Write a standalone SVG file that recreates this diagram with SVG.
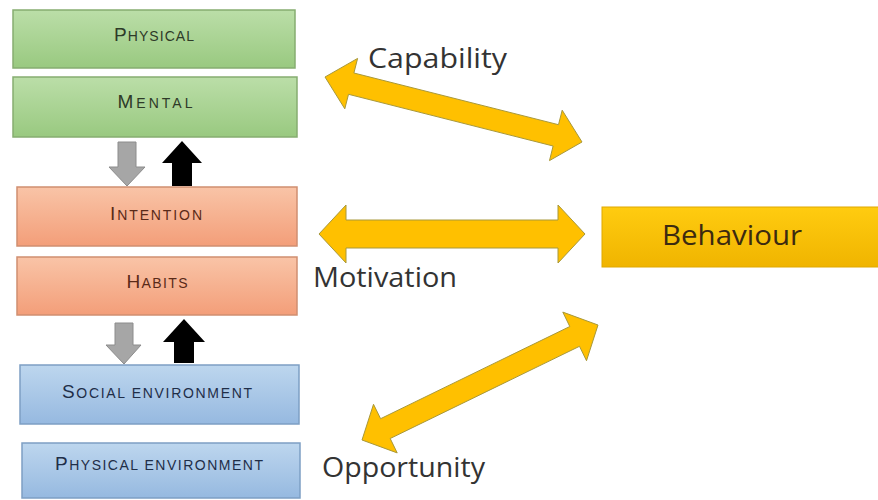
<svg xmlns="http://www.w3.org/2000/svg" width="878" height="500" viewBox="0 0 878 500">
<defs>
<linearGradient id="gGreen" x1="0" y1="0" x2="0" y2="1"><stop offset="0" stop-color="#bbdea8"/><stop offset="1" stop-color="#99c980"/></linearGradient>
<linearGradient id="gOrange" x1="0" y1="0" x2="0" y2="1"><stop offset="0" stop-color="#f9c4a7"/><stop offset="1" stop-color="#f39e79"/></linearGradient>
<linearGradient id="gBlue" x1="0" y1="0" x2="0" y2="1"><stop offset="0" stop-color="#bdd6ee"/><stop offset="1" stop-color="#96b9e0"/></linearGradient>
<linearGradient id="gYellow" x1="0" y1="0" x2="0" y2="1"><stop offset="0" stop-color="#ffcc10"/><stop offset="1" stop-color="#f0b400"/></linearGradient>
</defs>
<style>
.green{fill:url(#gGreen);stroke:#86ad70;stroke-width:1.5}
.orange{fill:url(#gOrange);stroke:#d08e70;stroke-width:1.5}
.blue{fill:url(#gBlue);stroke:#7d9fc4;stroke-width:1.5}
.beh{fill:url(#gYellow);stroke:#e0a800;stroke-width:1}
.sc{font-family:"Liberation Sans",Arial,sans-serif;text-anchor:middle}
.big{font-size:19px}
.small{font-size:14px}
.tg{fill:#2e3a28}
.to{fill:#5a2a18}
.tb{fill:#1f2e48}
.lbl{font-family:"Open Sans","Liberation Sans",sans-serif;font-size:28px;fill:#333333}
.yarrow{fill:#ffc000;stroke:#a8983a;stroke-width:1}
.garrow{fill:#a6a6a6;stroke:#8c8c8c;stroke-width:1}
.karrow{fill:#000000}
</style>
<rect width="878" height="500" fill="#ffffff"/>

<g id="physical">
<rect class="green" x="13" y="10" width="282" height="58"/>
<text class="sc tg" x="154" y="41" textLength="80" lengthAdjust="spacing"><tspan class="big">P</tspan><tspan class="small">HYSICAL</tspan></text>
</g>
<g id="mental">
<rect class="green" x="13" y="77" width="284" height="60"/>
<text class="sc tg" x="155" y="108" textLength="75" lengthAdjust="spacing"><tspan class="big">M</tspan><tspan class="small">ENTAL</tspan></text>
</g>
<g id="intention">
<rect class="orange" x="17" y="187" width="280" height="59"/>
<text class="sc to" x="156" y="220" textLength="92" lengthAdjust="spacing"><tspan class="big">I</tspan><tspan class="small">NTENTION</tspan></text>
</g>
<g id="habits">
<rect class="orange" x="17" y="257" width="280" height="58"/>
<text class="sc to" x="157" y="288" textLength="61" lengthAdjust="spacing"><tspan class="big">H</tspan><tspan class="small">ABITS</tspan></text>
</g>
<g id="social-environment">
<rect class="blue" x="20" y="365" width="279" height="59"/>
<text class="sc tb" x="157" y="398" textLength="190" lengthAdjust="spacing"><tspan class="big">S</tspan><tspan class="small">OCIAL ENVIRONMENT</tspan></text>
</g>
<g id="physical-environment">
<rect class="blue" x="22" y="443" width="278" height="55"/>
<text class="sc tb" x="159" y="470" textLength="208" lengthAdjust="spacing"><tspan class="big">P</tspan><tspan class="small">HYSICAL ENVIRONMENT</tspan></text>
</g>
<g id="behaviour">
<rect class="beh" x="602" y="207" width="280" height="60"/>
<text class="lbl" x="662" y="245" textLength="140" lengthAdjust="spacingAndGlyphs" style="fill:#3c2a10">Behaviour</text>
</g>

<g id="labels">
<text class="lbl" x="368" y="68" textLength="139" lengthAdjust="spacingAndGlyphs">Capability</text>
<text class="lbl" x="313" y="287" textLength="144" lengthAdjust="spacingAndGlyphs">Motivation</text>
<text class="lbl" x="322" y="477" textLength="163" lengthAdjust="spacingAndGlyphs">Opportunity</text>
</g>

<g id="connectors">
<polygon class="yarrow" points="325,77 344.8,108.8 348.5,94.3 553.1,146 549.5,160.6 582,142 562.2,110.2 558.5,124.7 353.9,73 357.6,58.4"/>
<polygon class="yarrow" points="319,234 346,263 346,248 558,248 558,263 585,234 558,205 558,220 346,220 346,205"/>
<polygon class="yarrow" points="362,440 397.2,452.9 390.2,438.5 579.5,346.3 586.5,360.7 598,325 562.8,312.1 569.8,326.5 380.6,418.7 373.5,404.3"/>
<polygon class="garrow" points="118,142 136,142 136,167 145,167 127,186 109,167 118,167"/>
<polygon class="karrow" points="182,141 202,163 192,163 192,186 172,186 172,163 162,163"/>
<polygon class="garrow" points="115,323 133,323 133,345 141,345 124,364 106,345 115,345"/>
<polygon class="karrow" points="184,319 205,342 194,342 194,363 174,363 174,342 163,342"/>
</g>
</svg>
